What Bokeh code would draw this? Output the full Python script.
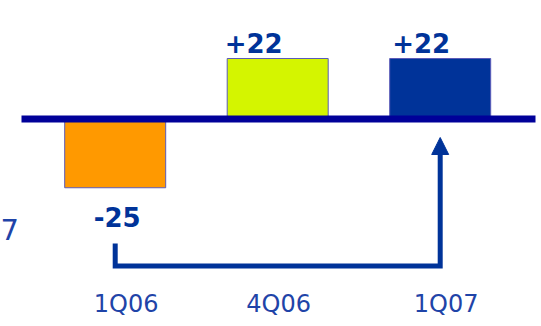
from bokeh.plotting import figure
from bokeh.models import Range1d, Arrow, NormalHead, ColumnDataSource
from bokeh.core.properties import value
from bokeh.embed import file_html
from bokeh.resources import INLINE

# Quarterly change values
quarters = ["1Q06", "4Q06", "1Q07"]
changes = [-25, 22, 22]
change_labels = ["-25", "+22", "+22"]
bar_colors = ["#FF9900", "#D4F500", "#003399"]

# Canvas and scale setup (pixels per data unit)
W, H = 541, 326
SX, X0 = 162.5, 114.7
SY, Y0 = 2.75, 118.5


def ypx(py):
    """Convert a vertical pixel position into data units."""
    return (Y0 - py) / SY


def xpx(px):
    return (px - X0) / SX


p = figure(width=W, height=H, output_backend="svg", toolbar_location=None,
           x_range=Range1d(xpx(0), xpx(W)), y_range=Range1d(ypx(H), ypx(0)),
           x_axis_location=None, y_axis_location=None, min_border=0)
p.grid.visible = False
p.outline_line_color = None
p.background_fill_color = "white"
p.border_fill_color = "white"

idx = list(range(len(quarters)))
src = ColumnDataSource(dict(x=idx, top=changes, color=bar_colors,
                            label=change_labels, quarter=quarters))

p.vbar(x="x", top="top", bottom=0, width=101 / SX, fill_color="color",
       line_color="#5b5bb8", line_width=1, source=src)

# zero line
p.segment(x0=xpx(21), x1=xpx(535), y0=0, y1=0, line_width=7,
          line_color="#000099", line_cap="butt")

# value labels
label_dx = [2, -24, -19]
label_dy = [29 if v < 0 else -16 for v in changes]
p.text(x=idx, y=changes, text=change_labels, x_offset=label_dx, y_offset=label_dy,
       text_align="center", text_baseline="middle", text_color="#003399",
       text_font=value("DejaVu Sans"), text_font_style="bold", text_font_size="26px")

# quarter labels
cat_dx = [11, 1, 6]
p.text(x=idx, y=[ypx(303)] * 3, text=quarters, x_offset=cat_dx,
       text_align="center", text_baseline="middle", text_color="#1f44a8",
       text_font=value("DejaVu Sans"), text_font_size="24px")

p.text(x=[xpx(0)], y=[ypx(229)], text=["7"], text_align="left",
       text_baseline="middle", text_color="#1f44a8",
       text_font=value("DejaVu Sans"), text_font_size="29px")

# connector from 1Q06 to 1Q07
p.line(x=[0, 0, 2, 2], y=[ypx(243), ypx(265.5), ypx(265.5), ypx(152)],
       line_width=5, line_color="#003399", line_join="miter", line_cap="butt")
p.add_layout(Arrow(end=NormalHead(size=17, fill_color="#003399", line_color="#003399"),
                   x_start=2, y_start=ypx(153), x_end=2, y_end=ypx(137),
                   line_width=5, line_color="#003399"))

open("out.html", "w").write(file_html(p, INLINE))
